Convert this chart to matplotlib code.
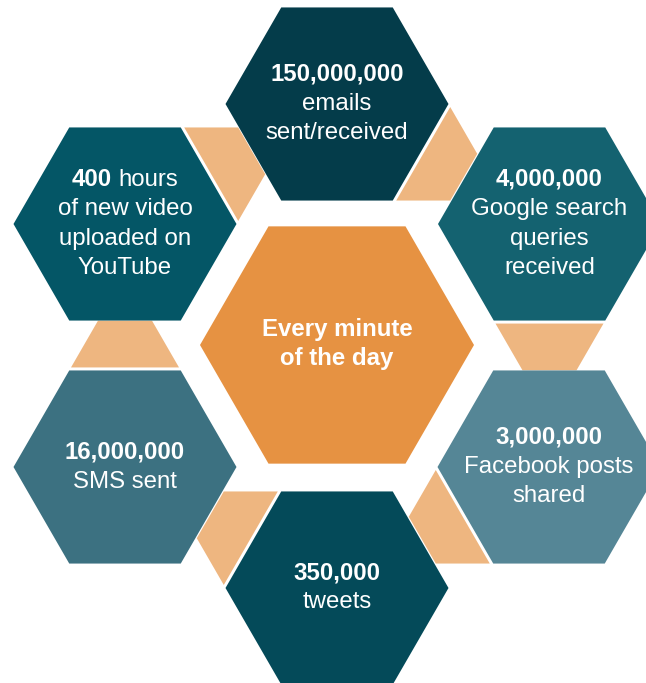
import numpy as np
import matplotlib
matplotlib.use("Agg")
import matplotlib.pyplot as plt
from matplotlib.patches import Polygon

# ---- data ----
center_lines = ["Every minute", "of the day"]
figures = ["150,000,000", "4,000,000", "3,000,000", "350,000", "16,000,000", "400"]
captions = [
    ["emails", "sent/received"],
    ["Google search", "queries", "received"],
    ["Facebook posts", "shared"],
    ["tweets"],
    ["SMS sent"],
    ["hours", "of new video", "uploaded on", "YouTube"],
]
figure_inline = [False, False, False, False, False, True]

# ---- layout / style ----
W, H = 646, 683
centers = [(337, 104), (549.5, 224), (549, 467), (337, 588), (125, 467), (125, 224)]
hex_colors = ["#043C4A", "#146270", "#558696", "#044A59", "#3C7181", "#045666"]
R_OUT = 111.5
CENTER = (337, 345)
R_CEN = 137
CENTER_COLOR = "#E69242"
CONN_COLOR = "#EEB680"
conn_dirs = [30, 90, 150, 210, 270, 330]  # direction (deg, image coords) from hex i to hex i+1

FONT = "Liberation Sans"
FS = 17.3
LINE = 29.4

fig = plt.figure(figsize=(W / 100, H / 100), dpi=100)
ax = fig.add_axes([0, 0, 1, 1])
ax.set_xlim(0, W)
ax.set_ylim(H, 0)
ax.axis("off")


def hexagon(cx, cy, R):
    a = np.radians(np.arange(0, 360, 60))
    return np.column_stack([cx + R * np.cos(a), cy + R * np.sin(a)])


# connectors (half hexagons)
r = 54.0
h = r * np.sqrt(3) / 2
g = 3.0
apo = R_OUT * np.sqrt(3) / 2
for (cx, cy), d in zip(centers, conn_dirs):
    t = np.radians(d)
    u = np.array([np.cos(t), np.sin(t)])
    v = np.array([-np.sin(t), np.cos(t)])
    M = np.array([cx, cy]) + (apo + g) * u
    pts = [M + r * v, M + h * u + (r / 2) * v, M + h * u - (r / 2) * v, M - r * v]
    ax.add_patch(Polygon(pts, closed=True, facecolor=CONN_COLOR, edgecolor="none"))

# outer hexes
for (cx, cy), c in zip(centers, hex_colors):
    ax.add_patch(Polygon(hexagon(cx, cy, R_OUT), closed=True, facecolor=c, edgecolor="none"))
# center hex
ax.add_patch(Polygon(hexagon(*CENTER, R_CEN), closed=True, facecolor=CENTER_COLOR, edgecolor="none"))

renderer = fig.canvas.get_renderer()


def text_width(s, weight):
    t = ax.text(0, 0, s, fontsize=FS, family=FONT, fontweight=weight)
    w = t.get_window_extent(renderer).width
    t.remove()
    return w


space_w = FS * 100 / 72 * 0.278


def draw_lines(cx, cy, lines):
    n = len(lines)
    for i, segs in enumerate(lines):
        yb = cy + 5.8 + (i - (n - 1) / 2) * LINE
        widths = [text_width(s, wt) for s, wt in segs]
        total = sum(widths) + space_w * (len(segs) - 1)
        x = cx - total / 2
        for (s, wt), w in zip(segs, widths):
            ax.text(x, yb, s, fontsize=FS, family=FONT, fontweight=wt,
                    color="white", ha="left", va="baseline")
            x += w + space_w


for (cx, cy), fig_txt, cap, inline in zip(centers, figures, captions, figure_inline):
    if inline:
        lines = [[(fig_txt, "bold"), (cap[0], "normal")]] + [[(c, "normal")] for c in cap[1:]]
    else:
        lines = [[(fig_txt, "bold")]] + [[(c, "normal")] for c in cap]
    draw_lines(cx, cy, lines)

draw_lines(CENTER[0], CENTER[1], [[(s, "bold")] for s in center_lines])

fig.savefig("out.png", dpi=100)
